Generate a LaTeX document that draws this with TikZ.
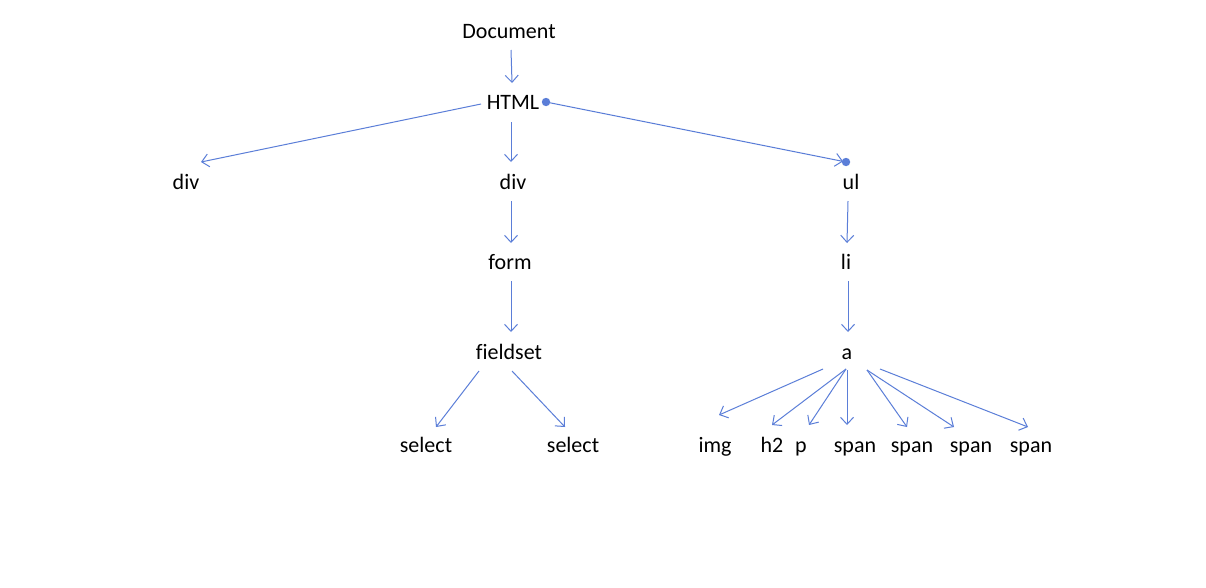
\documentclass[tikz,border=0pt]{standalone}
\usepackage{fontspec}
\setmainfont{Carlito}[Ligatures=NoCommon]
\usetikzlibrary{arrows.meta,calc}
\definecolor{edgeblue}{RGB}{91,126,216}
\begin{document}
\begin{tikzpicture}[x=1pt,y=-1pt,
  lbl/.style={anchor=base,inner sep=0pt,font=\fontsize{22}{26}\selectfont},
  edge/.style={draw=edgeblue,line width=1pt,-{Straight Barb[length=7pt,width=13pt,line width=1pt]}},
  dotmark/.style={fill=edgeblue,draw=none}]
\useasboundingbox (0,0) rectangle (1206,587);
\fill[white] (0,0) rectangle (1206,587);
\node[lbl] (doc) at (509,38) {Document};
\node[lbl] (html) at (513,109) {HTML};
\node[lbl] (divl) at (186,189) {div};
\node[lbl] (divm) at (513,189) {div};
\node[lbl] (ul) at (851,189) {ul};
\node[lbl] (form) at (510,269) {form};
\node[lbl] (li) at (846,269) {li};
\node[lbl] (fs) at (509,359) {fieldset};
\node[lbl] (a) at (847,359) {a};
\node[lbl] (sell) at (426,452) {select};
\node[lbl] (selr) at (573,452) {select};
\node[lbl] (img) at (715,452) {img};
\node[lbl] (h2) at (772,452) {h2};
\node[lbl] (p) at (801,452) {p};
\node[lbl] (spa) at (855,452) {span};
\node[lbl] (spb) at (912,452) {span};
\node[lbl] (spc) at (971,452) {span};
\node[lbl] (spd) at (1031,452) {span};
\coordinate (hdot) at ($(html.base)+(33,-7)$);
\coordinate (udot) at ($(ul.base)+(-5,-27)$);
\draw[edge] ($(doc.base)+(2,12)$) -- ($(html.base)+(-1,-26)$);
\draw[edge] ($(html.base)+(-32,-5)$) -- ($(divl.base)+(15,-27)$);
\draw[edge] ($(html.base)+(-2,13)$) -- ($(divm.base)+(-2,-27)$);
\draw[edge,shorten >=3pt] (hdot) -- (udot);
\fill[dotmark] (hdot) circle (4.2pt);
\fill[dotmark] (udot) circle (4.2pt);
\draw[edge] ($(divm.base)+(-2,12)$) -- ($(form.base)+(1,-26)$);
\draw[edge] ($(form.base)+(1,12)$) -- ($(fs.base)+(2,-27)$);
\draw[edge] ($(fs.base)+(-30,12)$) -- ($(sell.base)+(10,-25)$);
\draw[edge] ($(fs.base)+(3,12)$) -- ($(selr.base)+(-8,-25)$);
\draw[edge] ($(ul.base)+(-3,12)$) -- ($(li.base)+(1,-26)$);
\draw[edge] ($(li.base)+(2,12)$) -- ($(a.base)+(1,-27)$);
\draw[edge] ($(a.base)+(-24,10)$) -- ($(img.base)+(4,-37)$);
\draw[edge] ($(a.base)+(-1,10)$) -- ($(h2.base)+(0,-27)$);
\draw[edge] ($(a.base)+(-1,10)$) -- ($(p.base)+(8,-27)$);
\draw[edge] ($(a.base)+(0,11)$) -- ($(spa.base)+(-8,-27)$);
\draw[edge] ($(a.base)+(20,11)$) -- ($(spb.base)+(-5,-25)$);
\draw[edge] ($(a.base)+(20,11)$) -- ($(spc.base)+(-17,-25)$);
\draw[edge] ($(a.base)+(33,10)$) -- ($(spd.base)+(-3,-25)$);
\end{tikzpicture}
\end{document}
